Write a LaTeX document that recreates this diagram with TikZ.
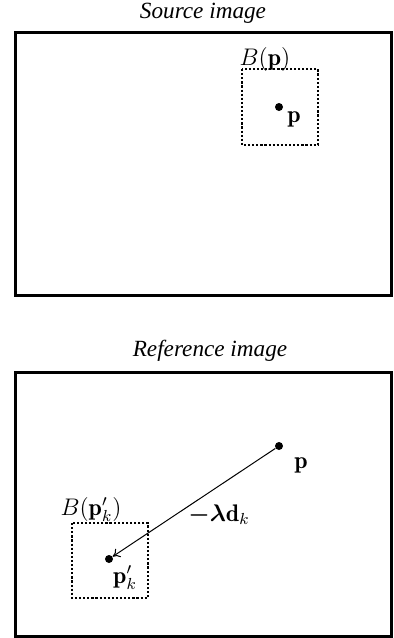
\documentclass[tikz,border=0pt]{standalone}
\usepackage{amsmath}
\usepackage{fontspec}
\newfontfamily\titlefont{Liberation Serif}
\usetikzlibrary{arrows.meta}
\begin{document}
\begin{tikzpicture}[x=0.5pt,y=-0.5pt,
  frame/.style={line width=1.5pt},
  dotbox/.style={line width=1.1pt,dash pattern=on 1.1pt off 0.95pt},
  pt/.style={circle,fill=black,inner sep=0pt,minimum size=4pt},
  lbl/.style={inner sep=0pt,anchor=base,font=\fontsize{12}{14}\selectfont},
  ttl/.style={inner sep=0pt,anchor=base,font=\fontsize{11.6}{14}\selectfont\titlefont\itshape},
  vec/.style={line width=0.5pt,-{To[length=3.5pt,width=5pt]}}]
\useasboundingbox (0,0) rectangle (393,638);
% top panel
\node[ttl] (t1) at (203,18) {Source image};
\draw[frame] (15.5,32) rectangle (391.5,295);
\draw[dotbox] (242,69) rectangle (318,145);
\node[lbl] (b1) at (265,65) {$B(\mathbf{p})$};
\node[pt] (p1) at (279,107) {};
\node[lbl] (l1) at (294,122) {$\mathbf{p}$};
% bottom panel
\node[ttl] (t2) at (210,356) {Reference image};
\draw[frame] (15.5,372) rectangle (391.5,636.5);
\draw[dotbox] (72,523) rectangle (148,598);
\node[lbl] (b2) at (91,515) {$B(\mathbf{p}'_k)$};
\node[pt] (p2) at (279,446) {};
\node[lbl] (l2) at (301,468) {$\mathbf{p}$};
\node[pt] (q2) at (109,559) {};
\node[lbl] (l3) at (125,583) {$\mathbf{p}'_k$};
\node[lbl] (d) at (219,521) {$\boldsymbol{-\lambda}\mathbf{d}_k$};
\draw[vec] (p2) -- (q2);
\end{tikzpicture}
\end{document}
